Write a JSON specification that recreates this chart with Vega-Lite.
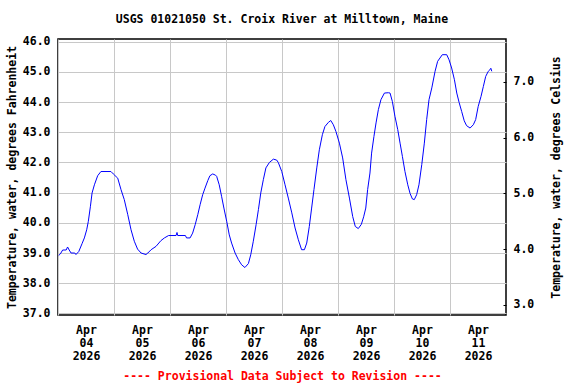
{
  "$schema": "https://vega.github.io/schema/vega-lite/v6.json",
  "autosize": "none",
  "width": 448,
  "height": 276,
  "padding": {"left": 58, "top": 39, "right": 70, "bottom": 69},
  "background": "white",
  "config": {
    "view": {"stroke": "black", "strokeWidth": 1.5},
    "font": "DejaVu Sans Mono",
    "axis": {
      "labelFont": "DejaVu Sans Mono", "labelFontWeight": "bold", "labelFontSize": 11.5, "labelColor": "black",
      "titleFont": "DejaVu Sans Mono", "titleFontWeight": "bold", "titleFontSize": 11.5, "titleColor": "black",
      "gridColor": "#c8c8c8", "gridWidth": 1, "gridOpacity": 1, "domain": false
    }
  },
  "title": {
    "text": "USGS 01021050 St. Croix River at Milltown, Maine",
    "font": "DejaVu Sans Mono", "fontWeight": "bold", "fontSize": 11.5, "color": "black",
    "anchor": "middle", "offset": 10
  },
  "datasets": {
    "temp": [
      {"t": "2026-04-04T00:18", "f": 38.92},
      {"t": "2026-04-04T01:00", "f": 38.97},
      {"t": "2026-04-04T02:00", "f": 39.1},
      {"t": "2026-04-04T03:30", "f": 39.1},
      {"t": "2026-04-04T04:06", "f": 39.2},
      {"t": "2026-04-04T04:48", "f": 39.1},
      {"t": "2026-04-04T05:36", "f": 39.0},
      {"t": "2026-04-04T07:12", "f": 39.0},
      {"t": "2026-04-04T07:42", "f": 38.95},
      {"t": "2026-04-04T08:54", "f": 39.05},
      {"t": "2026-04-04T10:18", "f": 39.31},
      {"t": "2026-04-04T11:18", "f": 39.5},
      {"t": "2026-04-04T12:18", "f": 39.77},
      {"t": "2026-04-04T13:00", "f": 40.05},
      {"t": "2026-04-04T13:54", "f": 40.55},
      {"t": "2026-04-04T14:36", "f": 40.99},
      {"t": "2026-04-04T15:36", "f": 41.26},
      {"t": "2026-04-04T17:00", "f": 41.56},
      {"t": "2026-04-04T18:24", "f": 41.7},
      {"t": "2026-04-04T22:42", "f": 41.7},
      {"t": "2026-04-04T23:42", "f": 41.62},
      {"t": "2026-04-05T01:36", "f": 41.48},
      {"t": "2026-04-05T03:00", "f": 41.1},
      {"t": "2026-04-05T04:24", "f": 40.77},
      {"t": "2026-04-05T05:54", "f": 40.27},
      {"t": "2026-04-05T07:18", "f": 39.77},
      {"t": "2026-04-05T08:42", "f": 39.39},
      {"t": "2026-04-05T10:06", "f": 39.13},
      {"t": "2026-04-05T11:36", "f": 39.0},
      {"t": "2026-04-05T13:42", "f": 38.95},
      {"t": "2026-04-05T14:30", "f": 39.0},
      {"t": "2026-04-05T15:54", "f": 39.11},
      {"t": "2026-04-05T18:00", "f": 39.22},
      {"t": "2026-04-05T20:06", "f": 39.41},
      {"t": "2026-04-05T21:36", "f": 39.5},
      {"t": "2026-04-05T23:24", "f": 39.58},
      {"t": "2026-04-06T02:36", "f": 39.58},
      {"t": "2026-04-06T03:00", "f": 39.68},
      {"t": "2026-04-06T03:18", "f": 39.58},
      {"t": "2026-04-06T06:36", "f": 39.58},
      {"t": "2026-04-06T07:06", "f": 39.5},
      {"t": "2026-04-06T08:36", "f": 39.5},
      {"t": "2026-04-06T09:42", "f": 39.66},
      {"t": "2026-04-06T10:48", "f": 39.94},
      {"t": "2026-04-06T11:54", "f": 40.27},
      {"t": "2026-04-06T12:54", "f": 40.6},
      {"t": "2026-04-06T14:00", "f": 40.93},
      {"t": "2026-04-06T15:00", "f": 41.15},
      {"t": "2026-04-06T16:12", "f": 41.4},
      {"t": "2026-04-06T17:06", "f": 41.56},
      {"t": "2026-04-06T18:18", "f": 41.62},
      {"t": "2026-04-06T19:30", "f": 41.58},
      {"t": "2026-04-06T20:00", "f": 41.54},
      {"t": "2026-04-06T21:06", "f": 41.26},
      {"t": "2026-04-06T22:06", "f": 40.88},
      {"t": "2026-04-06T23:06", "f": 40.49},
      {"t": "2026-04-07T00:18", "f": 40.05},
      {"t": "2026-04-07T01:24", "f": 39.6},
      {"t": "2026-04-07T02:24", "f": 39.33},
      {"t": "2026-04-07T03:54", "f": 39.0},
      {"t": "2026-04-07T05:18", "f": 38.78},
      {"t": "2026-04-07T06:42", "f": 38.61},
      {"t": "2026-04-07T08:06", "f": 38.52},
      {"t": "2026-04-07T09:36", "f": 38.65},
      {"t": "2026-04-07T10:36", "f": 38.94},
      {"t": "2026-04-07T11:42", "f": 39.39},
      {"t": "2026-04-07T12:54", "f": 39.94},
      {"t": "2026-04-07T13:54", "f": 40.44},
      {"t": "2026-04-07T14:54", "f": 40.99},
      {"t": "2026-04-07T16:00", "f": 41.43},
      {"t": "2026-04-07T17:06", "f": 41.82},
      {"t": "2026-04-07T18:36", "f": 42.0},
      {"t": "2026-04-07T20:18", "f": 42.11},
      {"t": "2026-04-07T21:42", "f": 42.08},
      {"t": "2026-04-07T22:24", "f": 42.0},
      {"t": "2026-04-07T23:54", "f": 41.7},
      {"t": "2026-04-08T01:18", "f": 41.26},
      {"t": "2026-04-08T02:42", "f": 40.82},
      {"t": "2026-04-08T04:12", "f": 40.33},
      {"t": "2026-04-08T05:36", "f": 39.83},
      {"t": "2026-04-08T07:00", "f": 39.44},
      {"t": "2026-04-08T08:24", "f": 39.11},
      {"t": "2026-04-08T09:36", "f": 39.11},
      {"t": "2026-04-08T10:36", "f": 39.33},
      {"t": "2026-04-08T11:42", "f": 39.88},
      {"t": "2026-04-08T12:42", "f": 40.49},
      {"t": "2026-04-08T13:42", "f": 41.1},
      {"t": "2026-04-08T14:54", "f": 41.82},
      {"t": "2026-04-08T16:00", "f": 42.42},
      {"t": "2026-04-08T17:18", "f": 42.92},
      {"t": "2026-04-08T18:24", "f": 43.19},
      {"t": "2026-04-08T19:54", "f": 43.33},
      {"t": "2026-04-08T20:54", "f": 43.39},
      {"t": "2026-04-08T22:00", "f": 43.25},
      {"t": "2026-04-08T23:06", "f": 43.03},
      {"t": "2026-04-09T00:36", "f": 42.64},
      {"t": "2026-04-09T02:00", "f": 42.15},
      {"t": "2026-04-09T03:24", "f": 41.43},
      {"t": "2026-04-09T04:54", "f": 40.82},
      {"t": "2026-04-09T06:18", "f": 40.21},
      {"t": "2026-04-09T07:24", "f": 39.88},
      {"t": "2026-04-09T08:42", "f": 39.81},
      {"t": "2026-04-09T10:00", "f": 39.95},
      {"t": "2026-04-09T11:00", "f": 40.2},
      {"t": "2026-04-09T11:54", "f": 40.49},
      {"t": "2026-04-09T12:42", "f": 41.1},
      {"t": "2026-04-09T13:42", "f": 41.65},
      {"t": "2026-04-09T14:24", "f": 42.31},
      {"t": "2026-04-09T15:24", "f": 42.86},
      {"t": "2026-04-09T16:18", "f": 43.31},
      {"t": "2026-04-09T17:18", "f": 43.75},
      {"t": "2026-04-09T18:24", "f": 44.08},
      {"t": "2026-04-09T19:54", "f": 44.3},
      {"t": "2026-04-09T21:36", "f": 44.31},
      {"t": "2026-04-09T22:18", "f": 44.3},
      {"t": "2026-04-09T23:18", "f": 44.02},
      {"t": "2026-04-10T00:24", "f": 43.53},
      {"t": "2026-04-10T01:36", "f": 43.09},
      {"t": "2026-04-10T02:36", "f": 42.64},
      {"t": "2026-04-10T03:36", "f": 42.2},
      {"t": "2026-04-10T04:42", "f": 41.7},
      {"t": "2026-04-10T05:54", "f": 41.26},
      {"t": "2026-04-10T06:54", "f": 40.97},
      {"t": "2026-04-10T07:54", "f": 40.79},
      {"t": "2026-04-10T08:42", "f": 40.77},
      {"t": "2026-04-10T09:42", "f": 40.93},
      {"t": "2026-04-10T10:42", "f": 41.26},
      {"t": "2026-04-10T11:54", "f": 41.93},
      {"t": "2026-04-10T13:00", "f": 42.64},
      {"t": "2026-04-10T14:00", "f": 43.42},
      {"t": "2026-04-10T15:00", "f": 44.08},
      {"t": "2026-04-10T16:12", "f": 44.47},
      {"t": "2026-04-10T17:36", "f": 45.02},
      {"t": "2026-04-10T18:42", "f": 45.35},
      {"t": "2026-04-10T19:42", "f": 45.46},
      {"t": "2026-04-10T20:42", "f": 45.57},
      {"t": "2026-04-10T22:36", "f": 45.57},
      {"t": "2026-04-10T23:36", "f": 45.4},
      {"t": "2026-04-11T00:42", "f": 45.13},
      {"t": "2026-04-11T01:54", "f": 44.74},
      {"t": "2026-04-11T02:54", "f": 44.3},
      {"t": "2026-04-11T03:54", "f": 43.99},
      {"t": "2026-04-11T05:00", "f": 43.69},
      {"t": "2026-04-11T06:06", "f": 43.38},
      {"t": "2026-04-11T07:06", "f": 43.22},
      {"t": "2026-04-11T08:36", "f": 43.14},
      {"t": "2026-04-11T10:00", "f": 43.25},
      {"t": "2026-04-11T11:00", "f": 43.42},
      {"t": "2026-04-11T12:06", "f": 43.86},
      {"t": "2026-04-11T13:18", "f": 44.19},
      {"t": "2026-04-11T14:18", "f": 44.52},
      {"t": "2026-04-11T15:18", "f": 44.85},
      {"t": "2026-04-11T16:24", "f": 45.02},
      {"t": "2026-04-11T17:06", "f": 45.07},
      {"t": "2026-04-11T17:30", "f": 45.12},
      {"t": "2026-04-11T17:54", "f": 45.02}
    ],
    "celsius": [{"c": 3}, {"c": 7}]
  },
  "layer": [
    {
      "data": {"name": "temp"},
      "mark": {"type": "line", "color": "#0000ff", "strokeWidth": 1, "clip": true},
      "encoding": {
        "x": {
          "field": "t", "type": "temporal",
          "scale": {"domain": [{"year": 2026, "month": 4, "date": 4}, {"year": 2026, "month": 4, "date": 12}], "nice": false},
          "axis": {
            "values": [
              {"year": 2026, "month": 4, "date": 4}, {"year": 2026, "month": 4, "date": 5},
              {"year": 2026, "month": 4, "date": 6}, {"year": 2026, "month": 4, "date": 7},
              {"year": 2026, "month": 4, "date": 8}, {"year": 2026, "month": 4, "date": 9},
              {"year": 2026, "month": 4, "date": 10}, {"year": 2026, "month": 4, "date": 11}
            ],
            "labelExpr": "[timeFormat(datum.value, '%b'), timeFormat(datum.value, '%d'), timeFormat(datum.value, '%Y')]",
            "labelOffset": 28, "labelFlush": false, "labelOverlap": false, "labelBound": false,
            "labelAlign": "center", "labelBaseline": "top", "labelLineHeight": 13, "labelPadding": 9,
            "ticks": false, "grid": true,
            "title": "---- Provisional Data Subject to Revision ----",
            "titleColor": "#ff0000", "titlePadding": 9
          }
        },
        "y": {
          "field": "f", "type": "quantitative",
          "scale": {"domain": [36.947, 46.09], "nice": false, "zero": false},
          "axis": {
            "values": [37, 38, 39, 40, 41, 42, 43, 44, 45, 46],
            "format": ".1f", "ticks": false, "grid": true, "labelPadding": 8,
            "title": "Temperature, water, degrees Fahrenheit", "titlePadding": 5
          }
        }
      }
    },
    {
      "data": {"name": "celsius"},
      "mark": {"type": "point", "opacity": 0},
      "encoding": {
        "y": {
          "field": "c", "type": "quantitative",
          "scale": {"domain": [2.815, 7.772], "nice": false, "zero": false},
          "axis": {
            "orient": "right", "values": [3, 4, 5, 6, 7], "format": ".1f",
            "grid": false, "ticks": true, "tickSize": -3, "tickColor": "black", "tickWidth": 1,
            "labelPadding": 10,
            "title": "Temperature, water, degrees Celsius", "titleAngle": 270, "titleBaseline": "bottom", "titlePadding": 28
          }
        }
      }
    }
  ],
  "resolve": {"scale": {"y": "independent"}}
}
